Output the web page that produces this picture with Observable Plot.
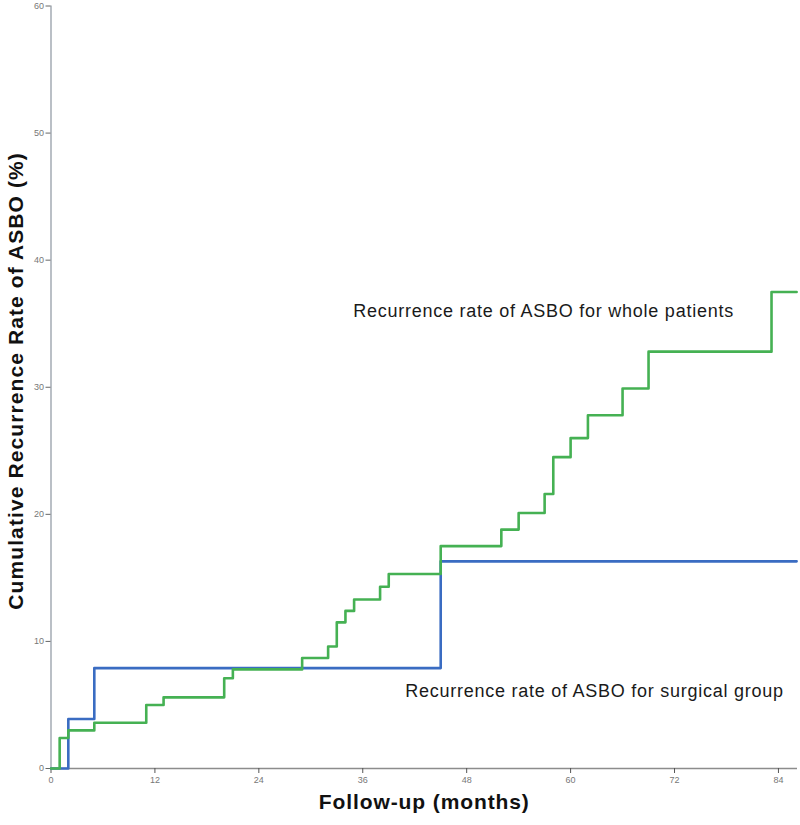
<!DOCTYPE html>
<html>
<head>
<meta charset="utf-8">
<script src="https://cdn.jsdelivr.net/npm/d3@7"></script>
<script src="https://cdn.jsdelivr.net/npm/@observablehq/plot@0.6"></script>
<style>
  html, body { margin: 0; padding: 0; background: #fff; }
  #chart { width: 800px; height: 825px; }
  svg { font-family: "Liberation Sans", Arial, sans-serif; }
  .annot text { letter-spacing: 0.75px; }
  .xlab text { letter-spacing: 0.9px; }
  .ylab text { letter-spacing: 1.1px; }
</style>
</head>
<body>
<div id="chart"></div>
<script>
// Cumulative recurrence, whole patients (step-after: month, %)
const wholeMonths = [0, 1, 2, 5, 11, 13, 20, 21, 29, 32, 33, 34, 35, 38, 39, 45, 52, 54, 57, 58, 60, 62, 66, 69, 83.2, 86.1];
const wholeRates  = [0, 2.4, 3.0, 3.6, 5.0, 5.6, 7.1, 7.8, 8.7, 9.6, 11.5, 12.4, 13.3, 14.3, 15.3, 17.5, 18.8, 20.1, 21.6, 24.5, 26.0, 27.8, 29.9, 32.8, 37.5, 37.5];

// Cumulative recurrence, surgical group
const surgMonths = [0, 2, 5, 45, 86.1];
const surgRates  = [0, 3.9, 7.9, 16.3, 16.3];

const xTicks = [0, 12, 24, 36, 48, 60, 72, 84];
const yTicks = [0, 10, 20, 30, 40, 50, 60];

const labelWhole = "Recurrence rate of ASBO for whole patients";
const labelSurg = "Recurrence rate of ASBO for surgical group";
const xLabel = "Follow-up (months)";
const yLabel = "Cumulative Recurrence Rate of ASBO (%)";

const whole = wholeMonths.map((m, i) => ({month: m, rate: wholeRates[i]}));
const surg = surgMonths.map((m, i) => ({month: m, rate: surgRates[i]}));

const annotations = [
  {month: 34.9, rate: 36.0, text: labelWhole},
  {month: 40.9, rate: 6.1, text: labelSurg}
];

const chart = Plot.plot({
  width: 800,
  height: 825,
  marginLeft: 50.5,
  marginRight: 3,
  marginTop: 5.5,
  marginBottom: 57,
  style: {fontFamily: "'Liberation Sans', Arial, sans-serif", background: "#fff"},
  x: {domain: [0, 86.2]},
  y: {domain: [0, 60]},
  marks: [
    Plot.ruleX([0], {stroke: "#a9b0b8", strokeWidth: 1.6}),
    Plot.ruleY([0], {stroke: "#8c8c8c", strokeWidth: 1.3}),
    Plot.axisY({
      ticks: yTicks, tickSize: 5, tickPadding: 2, fontSize: 9,
      stroke: "#666", color: "#777", label: null
    }),
    Plot.axisX({
      ticks: xTicks, tickSize: 5, tickPadding: 3, fontSize: 9,
      stroke: "#555", color: "#777", label: null
    }),
    Plot.line(surg, {x: "month", y: "rate", curve: "step-after", stroke: "#3a6cc2", strokeWidth: 2.6}),
    Plot.line(whole, {x: "month", y: "rate", curve: "step-after", stroke: "#45b153", strokeWidth: 2.6}),
    Plot.text(annotations, {
      x: "month", y: "rate", text: "text", textAnchor: "start",
      fontSize: 18, fill: "#1a1a1a", className: "annot"
    }),
    Plot.text([xLabel], {
      frameAnchor: "bottom", dy: 40, text: d => d,
      fontSize: 21, fontWeight: "bold", fill: "#111", className: "xlab"
    }),
    Plot.text([yLabel], {
      frameAnchor: "left", y: () => 30.5, dx: -35, text: d => d, rotate: -90,
      textAnchor: "middle",
      fontSize: 21, fontWeight: "bold", fill: "#111", className: "ylab"
    })
  ]
});

document.getElementById("chart").appendChild(chart);
</script>
</body>
</html>
